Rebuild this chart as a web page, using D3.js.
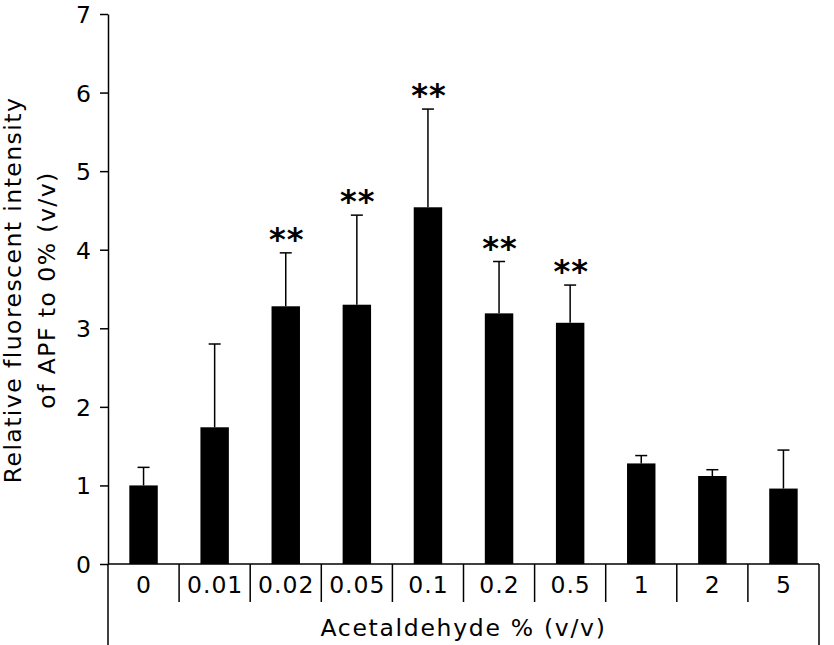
<!DOCTYPE html>
<html>
<head>
<meta charset="utf-8">
<script src="https://cdn.jsdelivr.net/npm/d3@7"></script>
<style>
  html, body { margin: 0; padding: 0; background: #fff; }
  svg { display: block; }
  text { font-family: "DejaVu Sans", Verdana, sans-serif; fill: #000; }
</style>
</head>
<body>
<svg id="chart" width="834" height="645"></svg>
<script>
const categories = ["0", "0.01", "0.02", "0.05", "0.1", "0.2", "0.5", "1", "2", "5"];
const means = [1.0, 1.74, 3.28, 3.30, 4.54, 3.19, 3.07, 1.28, 1.12, 0.96];
const errors = [0.23, 1.06, 0.68, 1.14, 1.25, 0.66, 0.48, 0.10, 0.08, 0.49];
const significance = ["", "", "**", "**", "**", "**", "**", "", "", ""];
const yTicks = [0, 1, 2, 3, 4, 5, 6, 7];
const xTitle = "Acetaldehyde % (v/v)";
const yTitleLines = ["Relative fluorescent intensity", "of APF to 0% (v/v)"];

const svg = d3.select("#chart");
const mLeft = 108, mRight = 819, mTop = 14, mBottom = 564, H = 645;

const x = d3.scaleBand().domain(categories).range([mLeft, mRight])
  .paddingInner(0.6).paddingOuter(0.3);
const y = d3.scaleLinear().domain([0, 7]).range([mBottom, mTop]);

const fontSize = 23.5;
const ls = "1.7px";

// Y axis
const yAxis = svg.append("g").attr("transform", `translate(${mLeft},0)`)
  .call(d3.axisLeft(y).tickValues(yTicks).tickSize(8).tickSizeOuter(0).tickPadding(9).tickFormat(d3.format("d")));
yAxis.selectAll("path, line").attr("stroke", "#000").attr("stroke-width", 1.5);
yAxis.selectAll("text").style("font-size", fontSize + "px").style("font-family", '"DejaVu Sans", Verdana, sans-serif').attr("dy", "0.36em");

// extension of y axis down to bottom
svg.append("line").attr("x1", mLeft).attr("x2", mLeft).attr("y1", mBottom).attr("y2", H)
  .attr("stroke", "#000").attr("stroke-width", 1.5);
// right border of category box
svg.append("line").attr("x1", mRight).attr("x2", mRight).attr("y1", mBottom).attr("y2", H)
  .attr("stroke", "#000").attr("stroke-width", 1.5);
// horizontal baseline
svg.append("line").attr("x1", mLeft).attr("x2", mRight).attr("y1", mBottom).attr("y2", mBottom)
  .attr("stroke", "#000").attr("stroke-width", 1.5);

// separators between categories
const step = x.step();
svg.append("g").selectAll("line").data(categories.slice(1)).join("line")
  .attr("x1", d => x(d) - step * 0.3).attr("x2", d => x(d) - step * 0.3)
  .attr("y1", mBottom).attr("y2", 602)
  .attr("stroke", "#000").attr("stroke-width", 1.5);

// category labels
svg.append("g").selectAll("text").data(categories).join("text")
  .attr("x", d => x(d) + x.bandwidth() / 2 + 0.5)
  .attr("y", 593)
  .attr("text-anchor", "middle")
  .style("font-size", fontSize + "px")
  .style("letter-spacing", "1px")
  .text(d => d);

// bars
svg.append("g").selectAll("rect").data(categories).join("rect")
  .attr("x", d => x(d))
  .attr("width", x.bandwidth())
  .attr("y", (d, i) => y(means[i]))
  .attr("height", (d, i) => y(0) - y(means[i]))
  .attr("fill", "#000");

// error bars
const eb = svg.append("g").attr("stroke", "#000").attr("stroke-width", 1.5);
categories.forEach((c, i) => {
  const cx = x(c) + x.bandwidth() / 2;
  const yt = y(means[i] + errors[i]);
  eb.append("line").attr("x1", cx).attr("x2", cx).attr("y1", y(means[i])).attr("y2", yt);
  eb.append("line").attr("x1", cx - 6).attr("x2", cx + 6).attr("y1", yt).attr("y2", yt);
});

// significance stars
svg.append("g").selectAll("text").data(categories).join("text")
  .attr("x", d => x(d) + x.bandwidth() / 2 + 1)
  .attr("y", (d, i) => y(means[i] + errors[i]) - 3)
  .attr("text-anchor", "middle")
  .style("font-size", "32px")
  .style("font-weight", "bold")
  .style("letter-spacing", "1px")
  .text((d, i) => significance[i]);

// x title
svg.append("text").attr("x", (mLeft + mRight) / 2).attr("y", 636)
  .attr("text-anchor", "middle").style("font-size", fontSize + "px")
  .style("letter-spacing", ls).text(xTitle);

// y title
const ytitle = svg.append("text")
  .attr("transform", `translate(21,${(mTop + mBottom) / 2 + 1}) rotate(-90)`)
  .attr("text-anchor", "middle").style("font-size", fontSize + "px")
  .style("letter-spacing", "1.45px");
yTitleLines.forEach((l, i) => {
  ytitle.append("tspan").attr("x", 0).attr("dy", i === 0 ? 0 : 34).text(l);
});
</script>
</body>
</html>
